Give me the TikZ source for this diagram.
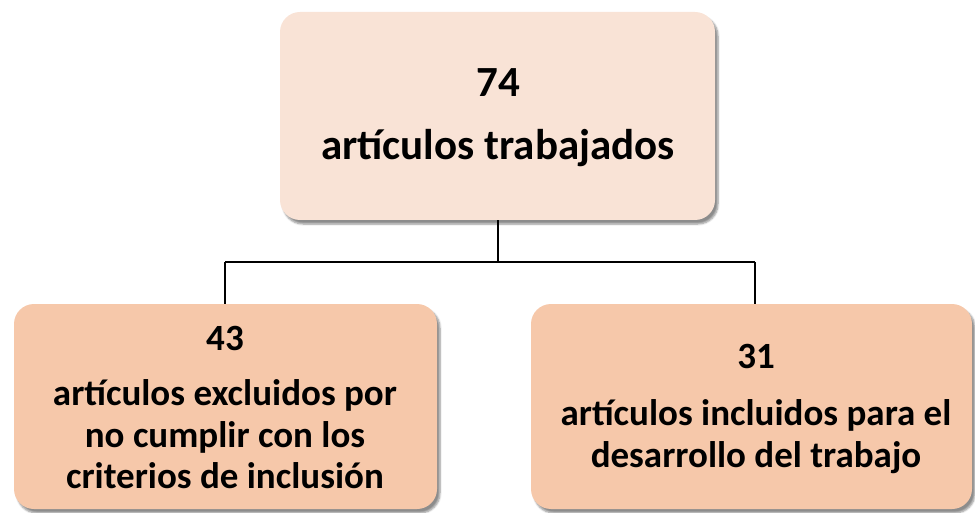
\documentclass[tikz,border=0pt]{standalone}
\usepackage{fontspec}
\setmainfont{Carlito}
\usetikzlibrary{shadows.blur}
\definecolor{toppeach}{HTML}{F9E3D6}
\definecolor{botpeach}{HTML}{F6C8AA}
\tikzset{
  box/.style={rectangle, rounded corners=20pt, inner sep=0pt, draw=none,
    blur shadow={shadow xshift=3pt, shadow yshift=-4pt, shadow blur steps=6, shadow opacity=45}},
  topbox/.style={box, fill=toppeach, minimum width=435pt, minimum height=208pt},
  botbox/.style={box, fill=botpeach, minimum height=205pt},
  lbl/.style={anchor=base, inner sep=0pt, font=\bfseries\fontsize{37}{42}\selectfont},
  toplbl/.style={anchor=base, inner sep=0pt, font=\bfseries\fontsize{43}{48}\selectfont},
  link/.style={line width=2.7pt, black}
}
\begin{document}
\begin{tikzpicture}[x=1pt,y=-1pt]
\useasboundingbox (0,0) rectangle (975,513);
\node[topbox] (top) at (497.5,116) {};
\node[botbox, minimum width=423pt] (left) at (225.5,406.5) {};
\node[botbox, minimum width=441pt] (right) at (751.5,406.5) {};
% texts
\node[toplbl] (t74) at (498,97) {74};
\node[toplbl] (ttxt) at (498,160) {artículos trabajados};
\node[lbl] (t43) at (225,350) {43};
\node[lbl] (l1) at (225,405) {artículos excluidos por};
\node[lbl] (l2) at (225,447) {no cumplir con los};
\node[lbl] (l3) at (225,488) {criterios de inclusión};
\node[lbl] (t31) at (756,368) {31};
\node[lbl] (r1) at (756,425) {artículos incluidos para el};
\node[lbl] (r2) at (756,467) {desarrollo del trabajo};
% connectors
\coordinate (j) at (498,262);
\coordinate (jl) at (225,262);
\coordinate (jr) at (755,262);
\draw[link] (top.south -| j) -- (j);
\draw[link] (jl) -- (jr);
\draw[link] (jl) -- (left.north -| jl);
\draw[link] (jr) -- (right.north -| jr);
\end{tikzpicture}
\end{document}
